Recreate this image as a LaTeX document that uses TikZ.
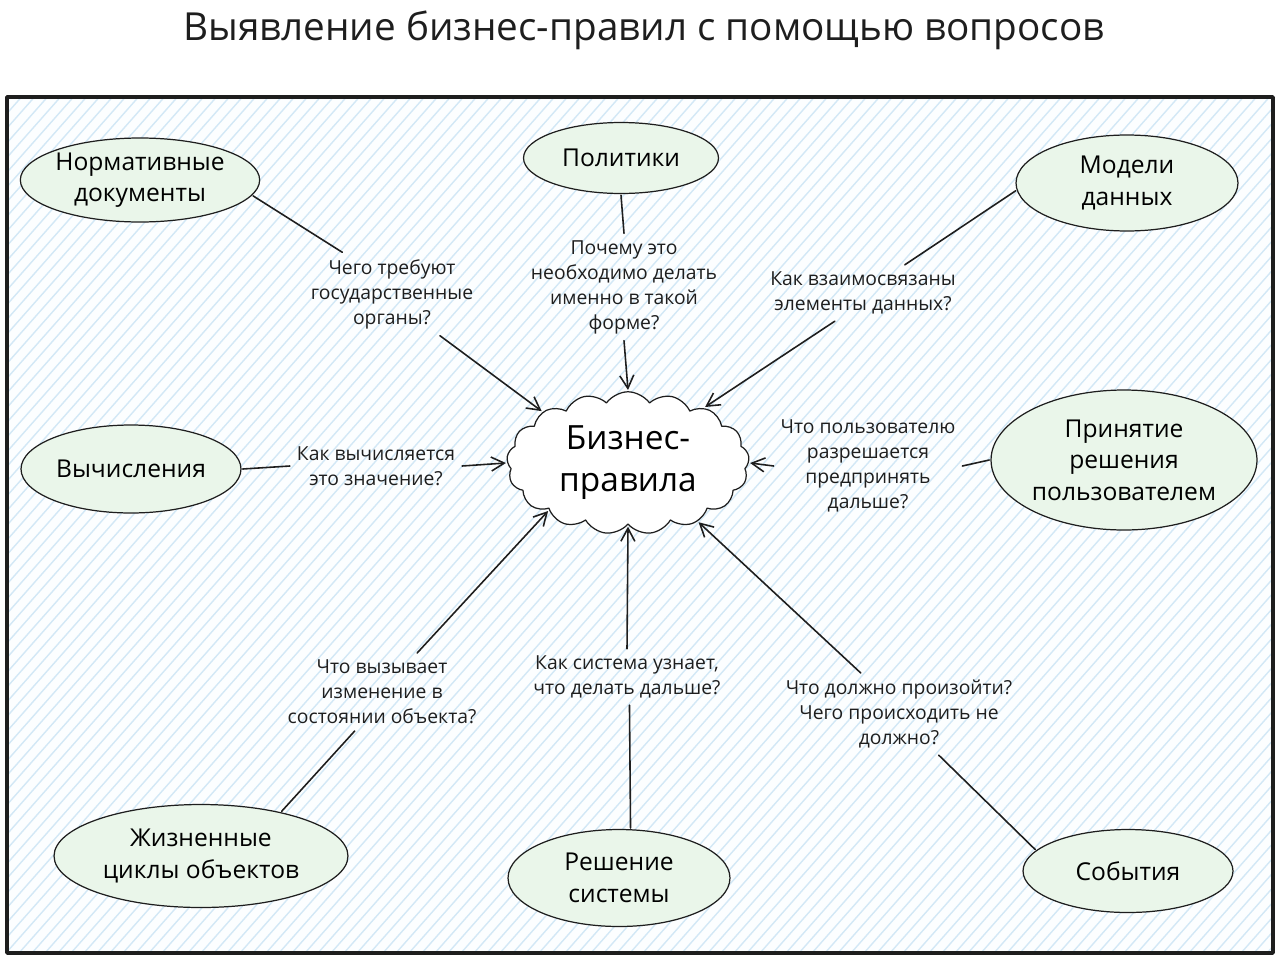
\documentclass[tikz,border=0pt]{standalone}
\usepackage{fontspec}
\setmainfont{Open Sans}
\usepackage{xcolor}
\usetikzlibrary{arrows.meta,positioning,shapes.geometric,shapes.symbols}
\definecolor{ink}{HTML}{1E1E1E}
\definecolor{softgreen}{HTML}{EAF6EA}
\definecolor{hatch}{HTML}{D3E8F6}
\definecolor{paper}{HTML}{FCFEFF}
\tikzset{
    every picture/.style={line cap=round,line join=round},
    source/.style={draw=ink,fill=softgreen,ellipse,line width=0.7pt,
      inner sep=0pt,outer sep=1pt,font=\fontsize{14}{18}\selectfont,align=center},
    rulecloud/.style={draw=ink,fill=white,cloud,cloud puffs=17,cloud puff arc=110,
      aspect=1.75,line width=0.7pt,inner sep=0pt,outer sep=1pt,
      minimum width=4.85cm,minimum height=2.85cm,
      font=\fontsize{19}{24}\selectfont,align=center},
    question/.style={inner sep=3pt,outer sep=1pt,text=ink,
      font=\fontsize{11}{14.2}\selectfont,align=center},
    tieline/.style={draw=ink,line width=0.9pt},
    flowarrow/.style={-{Straight Barb[length=2.6mm,width=2.8mm]},draw=ink,
      line width=0.9pt}
}
\begin{document}
\begin{tikzpicture}[x=0.02cm,y=-0.02cm]
  \useasboundingbox (0,0) rectangle (1280,960);
  \node[font=\fontsize{22}{26}\selectfont,text=ink] (title) at (644,30)
    {Выявление бизнес-правил с помощью вопросов};
  % framed hatched area
  \fill[paper] (7,97) rectangle (1273,953);
  \begin{scope}
    \clip (7,97) rectangle (1273,953);
    \foreach \i in {-800,-787,...,1290} {
      \draw[hatch,line width=0.8pt] (\i,953) -- (\i+760,93);
    }
  \end{scope}
  \draw[ink,line width=2pt] (7,97) rectangle (1273,953);

  \node[rulecloud] (rules) at (628,463) {Бизнес-\\правила};

  % sources
  \node[source,minimum width=4.72cm,minimum height=1.68cm] (norms) at (140,180)
    {Нормативные\\документы};
  \node[source,minimum width=3.9cm,minimum height=1.42cm] (policy) at (621,158)
    {Политики};
  \node[source,minimum width=4.44cm,minimum height=1.92cm] (datamodel) at (1127,183)
    {Модели\\данных};
  \node[source,minimum width=4.4cm,minimum height=1.76cm] (calc) at (131,469)
    {Вычисления};
  \node[source,minimum width=5.32cm,minimum height=2.8cm] (userdec) at (1124,460)
    {Принятие\\решения\\пользователем};
  \node[source,minimum width=5.88cm,minimum height=2.06cm] (lifecycle) at (201,856)
    {Жизненные\\циклы объектов};
  \node[source,minimum width=4.44cm,minimum height=1.94cm] (sysdec) at (619,878)
    {Решение\\системы};
  \node[source,minimum width=4.2cm,minimum height=1.66cm] (events) at (1128,871)
    {События};

  % questions
  \node[question] (qnorms) at (392,294) {Чего требуют\\государственные\\органы?};
  \node[question] (qpolicy) at (624,287) {Почему это\\необходимо делать\\именно в такой\\форме?};
  \node[question] (qdata) at (863,293) {Как взаимосвязаны\\элементы данных?};
  \node[question] (qcalc) at (376,466) {Как вычисляется\\это значение?};
  \node[question] (quser) at (868,466) {Что пользователю\\разрешается\\предпринять\\дальше?};
  \node[question] (qlife) at (382,692) {Что вызывает\\изменение в\\состоянии объекта?};
  \node[question] (qsys) at (627,677) {Как система узнает,\\что делать дальше?};
  \node[question] (qevents) at (899,714) {Что должно произойти?\\Чего происходить не\\должно?};

  % connectors: source -- question, question -> rules
  \foreach \src/\sa/\q/\qa/\qb/\ra in {
      norms/-8/qnorms/140/-41/149,
      policy/-90/qpolicy/90/-90/90,
      datamodel/184/qdata/34/-135/36,
      calc/0/qcalc/180/0/180,
      userdec/180/quser/0/180/0,
      lifecycle/29/qlife/-125/48/211,
      sysdec/77/qsys/-85/90/-90,
      events/167/qevents/-46/133/-40} {
    \draw[tieline] (\src.\sa) -- (\q.\qa);
    \draw[flowarrow] (\q.\qb) -- (rules.\ra);
  }
\end{tikzpicture}
\end{document}
